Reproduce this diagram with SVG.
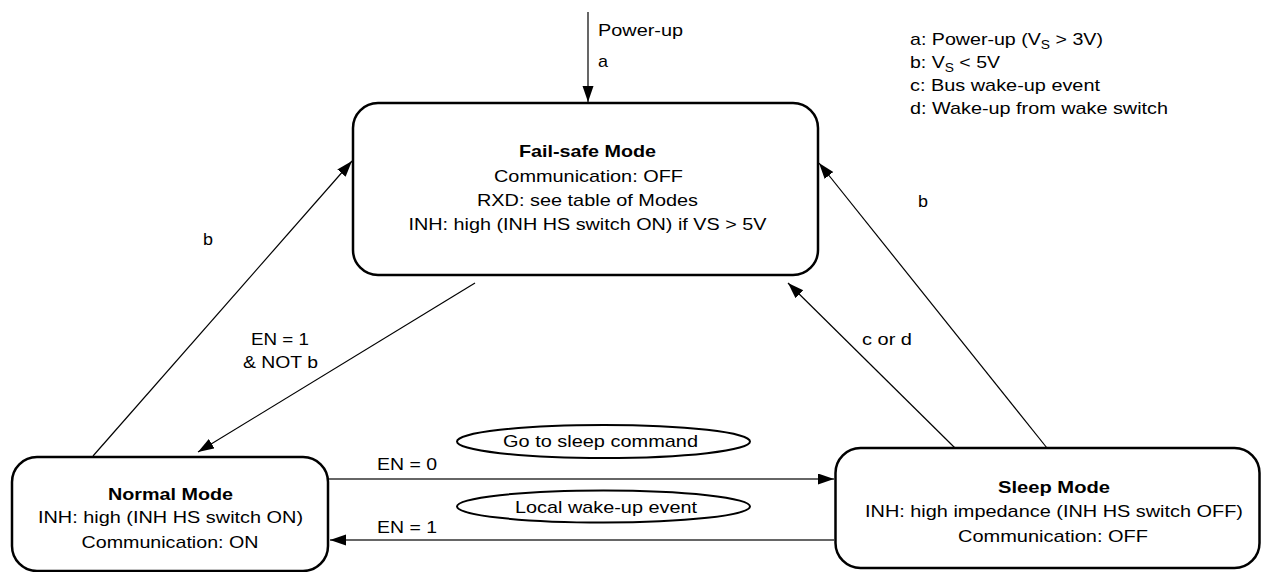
<svg xmlns="http://www.w3.org/2000/svg" width="1262" height="572" viewBox="0 0 1262 572">
<style>
.box{fill:#fff;stroke:#000;stroke-width:2.5}
.ell{fill:#fff;stroke:#000;stroke-width:2}
.t{font-family:"Liberation Sans",Arial,Helvetica,sans-serif;font-size:17px;fill:#000}
.c{text-anchor:middle}
.b{font-weight:bold}
.ln{stroke:#000;stroke-width:1.2;fill:none}
.hl{stroke:#333;stroke-width:1.6;fill:none}
.sub{font-size:12px}
</style>
<defs>
<marker id="ah" markerUnits="userSpaceOnUse" markerWidth="17" markerHeight="12" refX="16" refY="5.5" orient="auto">
<path d="M0,0 L16,5.5 L0,11 z" fill="#000"/>
</marker>
</defs>
<rect width="1262" height="572" fill="#fff"/>
<g id="connectors">
<line class="ln" x1="588" y1="12" x2="588" y2="102" marker-end="url(#ah)"/>
<line class="ln" x1="93" y1="456" x2="352" y2="161" marker-end="url(#ah)"/>
<line class="ln" x1="475" y1="283" x2="198" y2="452" marker-end="url(#ah)"/>
<line class="ln" x1="1047" y1="448" x2="819" y2="163" marker-end="url(#ah)"/>
<line class="ln" x1="955" y1="448" x2="788" y2="283" marker-end="url(#ah)"/>
<line class="hl" x1="328" y1="479" x2="834" y2="479" marker-end="url(#ah)"/>
<line class="hl" x1="834" y1="540" x2="330" y2="540" marker-end="url(#ah)"/>
<text class="t" x="598" y="35.5" textLength="85" lengthAdjust="spacingAndGlyphs">Power-up</text>
<text class="t" x="598" y="66.5" textLength="10" lengthAdjust="spacingAndGlyphs">a</text>
<text class="t" x="203" y="245" textLength="10" lengthAdjust="spacingAndGlyphs">b</text>
<text class="t c" x="280" y="345" textLength="58" lengthAdjust="spacingAndGlyphs">EN = 1</text>
<text class="t c" x="280.5" y="368" textLength="75" lengthAdjust="spacingAndGlyphs">&amp; NOT b</text>
<text class="t" x="918" y="207" textLength="10" lengthAdjust="spacingAndGlyphs">b</text>
<text class="t" x="862" y="345" textLength="50" lengthAdjust="spacingAndGlyphs">c or d</text>
<text class="t" x="377" y="470" textLength="60" lengthAdjust="spacingAndGlyphs">EN = 0</text>
<text class="t" x="377" y="533" textLength="60" lengthAdjust="spacingAndGlyphs">EN = 1</text>
</g>
<g id="go-to-sleep">
<ellipse class="ell" cx="603.5" cy="441.5" rx="146.5" ry="16.5"/>
<text class="t" x="503" y="447" textLength="195" lengthAdjust="spacingAndGlyphs">Go to sleep command</text>
</g>
<g id="local-wake-up">
<ellipse class="ell" cx="603.5" cy="506.5" rx="146.5" ry="16"/>
<text class="t" x="515" y="513" textLength="182" lengthAdjust="spacingAndGlyphs">Local wake-up event</text>
</g>
<g id="fail-safe">
<rect class="box" x="353" y="103" width="465" height="172" rx="25" ry="25"/>
<text class="t c b" x="587.5" y="157" textLength="137" lengthAdjust="spacingAndGlyphs">Fail-safe Mode</text>
<text class="t c" x="588.5" y="182" textLength="189" lengthAdjust="spacingAndGlyphs">Communication: OFF</text>
<text class="t c" x="587.5" y="205.5" textLength="221" lengthAdjust="spacingAndGlyphs">RXD: see table of Modes</text>
<text class="t c" x="587.5" y="230" textLength="358" lengthAdjust="spacingAndGlyphs">INH: high (INH HS switch ON) if VS &gt; 5V</text>
</g>
<g id="normal">
<rect class="box" x="12" y="457" width="316" height="114" rx="25" ry="25"/>
<text class="t c b" x="170.5" y="500" textLength="125" lengthAdjust="spacingAndGlyphs">Normal Mode</text>
<text class="t c" x="170.5" y="523" textLength="265" lengthAdjust="spacingAndGlyphs">INH: high (INH HS switch ON)</text>
<text class="t c" x="170" y="548" textLength="177" lengthAdjust="spacingAndGlyphs">Communication: ON</text>
</g>
<g id="sleep">
<rect class="box" x="835.5" y="448" width="424" height="120" rx="25" ry="25"/>
<text class="t c b" x="1054" y="493" textLength="112" lengthAdjust="spacingAndGlyphs">Sleep Mode</text>
<text class="t c" x="1054" y="517" textLength="378" lengthAdjust="spacingAndGlyphs">INH: high impedance (INH HS switch OFF)</text>
<text class="t c" x="1053" y="542" textLength="190" lengthAdjust="spacingAndGlyphs">Communication: OFF</text>
</g>
<g id="legend">
<text class="t" x="910" y="45" textLength="193" lengthAdjust="spacingAndGlyphs">a: Power-up (V<tspan class="sub" dy="4">S</tspan><tspan dy="-4"> &gt; 3V)</tspan></text>
<text class="t" x="910" y="68" textLength="90" lengthAdjust="spacingAndGlyphs">b: V<tspan class="sub" dy="4">S</tspan><tspan dy="-4"> &lt; 5V</tspan></text>
<text class="t" x="910" y="91" textLength="190" lengthAdjust="spacingAndGlyphs">c: Bus wake-up event</text>
<text class="t" x="910" y="114" textLength="258" lengthAdjust="spacingAndGlyphs">d: Wake-up from wake switch</text>
</g>
</svg>
